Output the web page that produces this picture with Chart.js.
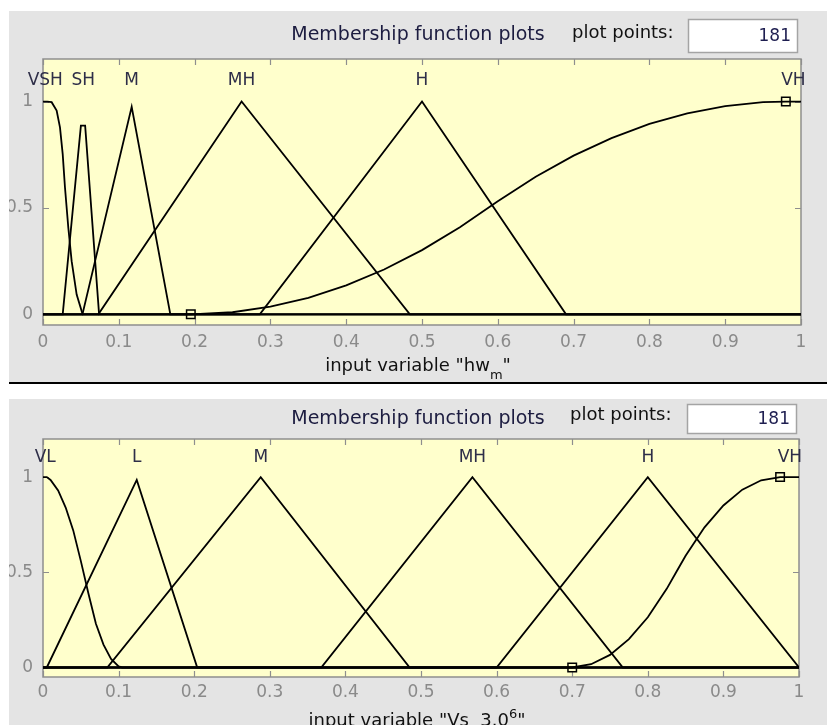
<!DOCTYPE html>
<html><head><meta charset="utf-8">
<script src="https://cdn.jsdelivr.net/npm/chart.js@4.4.1/dist/chart.umd.min.js"></script>
<style>
html,body{margin:0;padding:0;background:#fff;}
body{width:827px;height:725px;position:relative;overflow:hidden;}
.panel{position:absolute;left:9px;width:818px;background:#e4e4e4;}
.panel canvas{display:block;}
</style></head><body>
<div class="panel" style="top:11px;height:371px"><canvas id="c1"></canvas></div>
<div style="position:absolute;left:9px;top:382px;width:818px;height:2px;background:#000"></div>
<div class="panel" style="top:399px;height:326px"><canvas id="c2"></canvas></div>
<script>
// ---------- shared axis text ----------
const xTickLabels = ['0','0.1','0.2','0.3','0.4','0.5','0.6','0.7','0.8','0.9','1'];
const yTickValues = [0, 0.5, 1];
const yTickLabels = ['0','0.5','1'];
const plotTitle = 'Membership function plots';
const plotPointsLabel = 'plot points:';
const plotPointsValue = '181';

// ---------- panel 1: input variable "hw_m" ----------
const hwNames  = ['VSH','SH','M','MH','H','VH'];
const hwLabelX = [0.003, 0.053, 0.117, 0.262, 0.5, 0.99];
const hwVSH_x = [0, 0.0056, 0.0114, 0.018, 0.0224, 0.026, 0.029, 0.0334, 0.0378, 0.0444, 0.0523, 1];
const hwVSH_y = [1, 1, 0.997, 0.958, 0.879, 0.753, 0.596, 0.407, 0.25, 0.093, 0, 0];
const hwSH_x  = [0, 0.026, 0.05, 0.0556, 0.074, 1];
const hwSH_y  = [0, 0, 0.887, 0.887, 0, 0];
const hwM_x   = [0, 0.052, 0.117, 0.168, 1];
const hwM_y   = [0, 0, 0.975, 0, 0];
const hwMH_x  = [0, 0.073, 0.262, 0.484, 1];
const hwMH_y  = [0, 0, 1, 0, 0];
const hwH_x   = [0, 0.286, 0.5, 0.69, 1];
const hwH_y   = [0, 0, 1, 0, 0];
const hwVH_x  = [0, 0.195, 0.25, 0.3, 0.35, 0.4, 0.45, 0.5, 0.55, 0.6, 0.65, 0.7, 0.75, 0.8, 0.85, 0.9, 0.95, 0.98, 1];
const hwVH_y  = [0, 0, 0.01, 0.036, 0.078, 0.136, 0.211, 0.302, 0.409, 0.531, 0.647, 0.746, 0.828, 0.895, 0.945, 0.979, 0.997, 1, 1];
const hwMarkX = [0.195, 0.98];
const hwMarkY = [0, 1];

// ---------- panel 2: input variable "Vs 3.0^6" ----------
const vsNames  = ['VL','L','M','MH','H','VH'];
const vsLabelX = [0.003, 0.124, 0.288, 0.568, 0.8, 0.988];
const vsVL_x = [0, 0.005, 0.01, 0.02, 0.03, 0.04, 0.05, 0.06, 0.07, 0.08, 0.09, 0.1, 0.105, 1];
const vsVL_y = [1, 1, 0.985, 0.93, 0.84, 0.72, 0.56, 0.39, 0.23, 0.12, 0.045, 0.006, 0, 0];
const vsL_x  = [0, 0.005, 0.124, 0.204, 1];
const vsL_y  = [0, 0, 0.985, 0, 0];
const vsM_x  = [0, 0.085, 0.288, 0.485, 1];
const vsM_y  = [0, 0, 1, 0, 0];
const vsMH_x = [0, 0.368, 0.568, 0.767, 1];
const vsMH_y = [0, 0, 1, 0, 0];
const vsH_x  = [0, 0.6, 0.8, 1];
const vsH_y  = [0, 0, 1, 0];
const vsVH_x = [0, 0.7, 0.725, 0.75, 0.775, 0.8, 0.825, 0.8375, 0.85, 0.875, 0.9, 0.925, 0.95, 0.975, 1];
const vsVH_y = [0, 0, 0.017, 0.066, 0.149, 0.264, 0.413, 0.5, 0.587, 0.736, 0.851, 0.934, 0.983, 1, 1];
const vsMarkX = [0.7, 0.975];
const vsMarkY = [0, 1];

const FONT = 'DejaVu Sans';
const TICK_COLOR = '#8a8a8a';

function pts(xs, ys){ return xs.map((x,i)=>({x:x, y:ys[i]})); }

function decor(spec){
  return {
    id: 'decor_' + spec.id,
    beforeDraw(chart){
      const {ctx, chartArea:a} = chart;
      ctx.save();
      ctx.fillStyle = '#ffffcc';
      ctx.fillRect(a.left, a.top, a.right-a.left, a.bottom-a.top);
      ctx.restore();
    },
    beforeDatasetsDraw(chart){
      const {ctx, chartArea:a, scales} = chart;
      ctx.save();
      ctx.strokeStyle = '#8e8e8e';
      ctx.lineWidth = 1.5;
      ctx.strokeRect(a.left, a.top, a.right-a.left, a.bottom-a.top);
      ctx.lineWidth = 1.2;
      ctx.beginPath();
      scales.x.ticks.forEach(t=>{
        const px = Math.round(scales.x.getPixelForValue(t.value)) + 0.5;
        ctx.moveTo(px, a.top); ctx.lineTo(px, a.top+6);
        ctx.moveTo(px, a.bottom); ctx.lineTo(px, a.bottom-6);
      });
      scales.y.ticks.forEach(t=>{
        const py = Math.round(scales.y.getPixelForValue(t.value)) + 0.5;
        ctx.moveTo(a.left, py); ctx.lineTo(a.left+6, py);
        ctx.moveTo(a.right, py); ctx.lineTo(a.right-6, py);
      });
      ctx.stroke();
      ctx.restore();
    },
    afterDraw(chart){
      const {ctx, scales} = chart;
      ctx.save();
      // MF names
      ctx.font = '17px "' + FONT + '"';
      ctx.fillStyle = '#2e2e48';
      ctx.textAlign = 'center';
      ctx.textBaseline = 'middle';
      spec.names.forEach((n,i)=>{
        ctx.fillText(n, scales.x.getPixelForValue(spec.labelX[i]), scales.y.getPixelForValue(1.1));
      });
      // plot points label + box
      ctx.textAlign = 'left';
      ctx.fillStyle = '#111';
      ctx.font = '18px "' + FONT + '"';
      ctx.fillText(plotPointsLabel, spec.pp.tx, spec.pp.ty);
      ctx.fillStyle = '#fff';
      ctx.fillRect(spec.pp.bx, spec.pp.by, spec.pp.bw, spec.pp.bh);
      ctx.strokeStyle = '#a4a4a4';
      ctx.lineWidth = 1.5;
      ctx.strokeRect(spec.pp.bx+0.5, spec.pp.by+0.5, spec.pp.bw-1, spec.pp.bh-1);
      ctx.fillStyle = '#1e1e50';
      ctx.font = '17px "' + FONT + '"';
      ctx.textAlign = 'right';
      ctx.fillText(plotPointsValue, spec.pp.nx, spec.pp.ny);
      // x-axis title with sub/superscript pieces
      ctx.textBaseline = 'alphabetic';
      ctx.textAlign = 'left';
      let total = 0;
      spec.xTitle.forEach(p=>{
        ctx.font = (p.s ? 13 : 18) + 'px "' + FONT + '"';
        p.w = ctx.measureText(p.t).width; total += p.w;
      });
      let x = spec.xTitleCx - total/2;
      ctx.fillStyle = '#111';
      spec.xTitle.forEach(p=>{
        ctx.font = (p.s ? 13 : 18) + 'px "' + FONT + '"';
        ctx.fillText(p.t, x, spec.xTitleY + (p.s || 0));
        x += p.w;
      });
      ctx.restore();
    }
  };
}

function buildPanel(spec){
  const datasets = spec.mfs.map(m => ({
    data: pts(m[0], m[1]),
    borderColor: '#000', borderWidth: 1.8, pointRadius: 0, tension: 0, fill: false
  }));
  datasets.push({
    data: pts(spec.markX, spec.markY), showLine: false,
    pointStyle: 'rect', pointRadius: 6, pointBorderWidth: 1.5,
    pointBorderColor: '#000', pointBackgroundColor: 'rgba(0,0,0,0)',
    borderColor: '#000', backgroundColor: 'rgba(0,0,0,0)', clip: false
  });
  new Chart(document.getElementById(spec.id), {
    type: 'line',
    data: { datasets: datasets },
    options: {
      responsive: true, maintainAspectRatio: false, animation: false,
      layout: { padding: 0 },
      plugins: {
        legend: { display: false }, tooltip: { enabled: false },
        title: { display: true, text: plotTitle, color: '#1c1c40',
          font: { family: FONT, size: 19, weight: 'normal' },
          padding: { top: spec.titlePad, bottom: spec.titlePad } }
      },
      scales: {
        x: { type: 'linear', min: 0, max: 1,
          ticks: { stepSize: 0.1, autoSkip: false, maxRotation: 0, padding: spec.xTickPad,
            color: TICK_COLOR, font: { family: FONT, size: 17 },
            callback: (v, i) => xTickLabels[i] },
          grid: { display: false, drawTicks: false }, border: { display: false },
          afterFit: s => { s.height = spec.xAxisH; } },
        y: { type: 'linear', min: -0.05, max: 1.2,
          afterBuildTicks: s => { s.ticks = yTickValues.map(v => ({ value: v })); },
          ticks: { padding: 10, color: TICK_COLOR, font: { family: FONT, size: 17 },
            callback: (v, i) => yTickLabels[i] },
          grid: { display: false, drawTicks: false }, border: { display: false },
          afterFit: s => { s.width = 34; } },
        yR: { position: 'right', display: true,
          ticks: { display: false }, grid: { display: false, drawTicks: false }, border: { display: false },
          afterFit: s => { s.width = spec.rightW; } }
      }
    },
    plugins: [decor(spec)]
  });
}

buildPanel({
  id: 'c1',
  mfs: [[hwVSH_x,hwVSH_y],[hwSH_x,hwSH_y],[hwM_x,hwM_y],[hwMH_x,hwMH_y],[hwH_x,hwH_y],[hwVH_x,hwVH_y]],
  markX: hwMarkX, markY: hwMarkY,
  names: hwNames, labelX: hwLabelX,
  titlePad: 12.6, xTickPad: 7, xAxisH: 57, rightW: 26,
  pp: { tx: 563, ty: 22, bx: 679, by: 8, bw: 110, bh: 34, nx: 782, ny: 26 },
  xTitle: [ {t:'input variable "hw'}, {t:'m', s:8}, {t:'"'} ],
  xTitleCx: 409, xTitleY: 360
});

buildPanel({
  id: 'c2',
  mfs: [[vsVL_x,vsVL_y],[vsL_x,vsL_y],[vsM_x,vsM_y],[vsMH_x,vsMH_y],[vsH_x,vsH_y],[vsVH_x,vsVH_y]],
  markX: vsMarkX, markY: vsMarkY,
  names: vsNames, labelX: vsLabelX,
  titlePad: 8.6, xTickPad: 5.3, xAxisH: 48, rightW: 28,
  pp: { tx: 561, ty: 16.5, bx: 678, by: 5, bw: 110, bh: 30, nx: 781, ny: 21 },
  xTitle: [ {t:'input variable "Vs  3.0'}, {t:'6', s:-8}, {t:'"'} ],
  xTitleCx: 408, xTitleY: 327
});
</script>
</body></html>
